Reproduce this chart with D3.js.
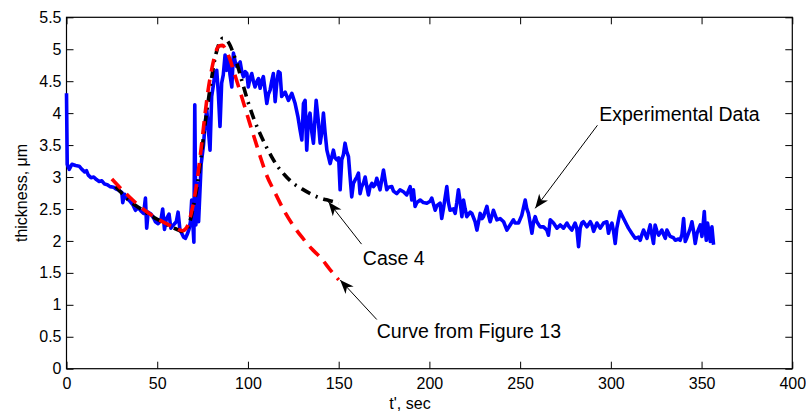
<!DOCTYPE html>
<html>
<head>
    <script src="https://d3js.org/d3.v7.min.js"></script>
    <style>
        body { margin: 0; background: #fff; }
        text { font-family: "Liberation Sans", Arial, Helvetica, sans-serif; fill: #000; }
    </style>
</head>
<body>
<div id="chart"></div>

<script>
    // experimental data (t', sec / thickness, um)
    var expT = [0,0.4,1.5,3,5,7,8.5,10,11,12,13.5,15,16.5,18,19.5,21,22.5,24,26,27.5,29,30.5,31,32,33.5,35,36.5,38,39.5,41,42.5,43.5,44.2,45,46.5,48,49,50.5,52,53,54,55,56.5,57.5,59,60.5,61.5,62.5,63.5,64.5,65.5,66.5,67.5,68.3,69,69.6,70.2,70.7,71.3,72.2,72.8,74.2,75.5,76.4,77.3,78.3,79.1,80,81,81.9,82.8,83.7,84.6,85.5,86.4,87.4,88.3,89.2,90.1,91.1,92,93,93.8,95.7,96.6,97.5,98.5,99.4,100.2,101.2,102.1,103,103.9,105,105.8,106.7,107.6,108.5,110.4,111.3,112.2,113.1,114,115,116,116.8,117.7,118.6,119.6,120.5,122.3,124.2,126,127.5,128.7,129.7,130.6,131.5,132.4,133.3,134.2,135.2,136.1,137.6,138.7,139.8,140.7,141.6,142.5,143.5,145.3,147.1,148,149,150,150.8,151.7,152.6,153.5,154.4,155.4,156.3,157.2,158.1,159,160,160.9,161.8,162.7,163.6,164.6,165.5,166.4,167.3,168.3,169.2,170.1,171,172,172.8,173.7,174.7,175.6,176.5,177.4,179.3,180.2,182,183.8,185.7,187.5,189.4,190.3,191.2,192.1,193.1,194.9,196.7,198.6,200.4,201.3,203.2,204.1,205.9,206.8,207.7,209.6,210.5,211.4,213.2,214.2,215.1,216,217,217.9,218.8,219.7,220.6,222.5,223.4,225.2,226.2,227.1,228,229,229.8,231.7,232.6,233.5,235.3,236.3,237.2,239,240.9,242.7,244.5,246.3,247.2,249.1,250.9,252.8,253.7,254.6,256.5,257.4,258.3,259.2,261,262.9,264.7,265.6,266.6,268.4,270.3,272.1,273.9,275.8,277,278.5,280.3,281.2,282.2,283.1,284,284.9,286.8,288.7,289.6,290.5,292.3,294.1,296,297.8,298.7,299.6,300.6,301.5,302.4,303.3,305.1,307,308.8,309.7,311.5,313.4,315.2,316.2,317.1,318,319.9,320.8,321.7,322.6,323.5,324.4,325.4,326.3,328.1,329.1,330,330.9,331.8,332.7,334.5,335.5,337.3,338.2,339.2,340.1,341,341.9,342.8,343.8,344.7,345.6,346.5,347.5,349.3,350.2,351,351.5,352,352.6,353.3,354,354.8,355.7,356.6];
    var expThk = [4.31,3.2,3.12,3.2,3.18,3.17,3.12,3.08,3.1,3.03,2.99,3.0,2.96,2.93,2.94,2.89,2.88,2.85,2.84,2.81,2.79,2.76,2.6,2.73,2.66,2.62,2.57,2.48,2.52,2.47,2.43,2.67,2.2,2.45,2.42,2.36,2.3,2.27,2.32,2.5,2.18,2.34,2.42,2.2,2.25,2.3,2.45,2.18,2.12,2.06,2.04,2.1,2.18,2.3,2.64,2.3,1.98,4.13,2.25,2.9,2.3,3.2,3.5,3.84,4.05,3.7,3.42,4.26,4.45,4.63,4.67,4.3,3.79,4.47,4.6,4.91,4.67,4.88,4.6,4.41,4.94,4.8,4.73,4.8,4.65,4.57,4.65,4.62,4.41,4.55,4.62,4.5,4.41,4.5,4.54,4.39,4.5,4.57,4.15,4.3,4.36,4.5,4.62,4.18,4.5,4.65,4.63,4.26,4.3,4.33,4.2,4.31,4.15,3.95,3.74,3.58,4.15,4.2,3.42,3.9,4.0,3.7,3.53,4.2,3.9,3.53,3.7,4.0,3.7,3.42,3.21,3.42,3.3,3.27,3.3,2.8,3.27,3.35,3.53,3.4,3.32,3.0,2.69,2.9,2.95,3.0,3.06,2.74,2.85,2.9,3.0,2.85,2.72,2.85,2.9,2.85,2.88,2.98,2.88,2.8,2.95,3.11,2.95,2.8,2.84,2.85,2.78,2.74,2.8,2.77,2.72,2.85,2.64,2.8,2.54,2.6,2.64,2.6,2.59,2.62,2.67,2.48,2.55,2.59,2.35,2.5,2.85,2.6,2.48,2.5,2.43,2.6,2.8,2.6,2.38,2.64,2.5,2.38,2.45,2.43,2.3,2.17,2.3,2.43,2.35,2.38,2.54,2.4,2.3,2.48,2.4,2.33,2.35,2.3,2.17,2.25,2.33,2.28,2.28,2.4,2.64,2.5,2.43,2.12,2.3,2.38,2.3,2.22,2.22,2.17,2.09,2.33,2.28,2.2,2.25,2.2,2.28,2.22,2.17,2.28,2.2,1.91,2.2,2.28,2.3,2.22,2.3,2.25,2.15,2.28,2.2,2.28,2.3,2.12,2.22,2.28,2.15,1.96,2.2,2.46,2.35,2.25,2.2,2.12,2.04,2.06,2.01,2.1,2.17,2.04,2.15,2.25,2.1,1.96,2.25,2.15,2.09,2.17,2.1,2.04,2.17,2.12,2.07,2.05,2.01,2.03,2.01,2.1,2.35,1.99,2.05,2.12,2.2,2.3,2.15,1.96,2.12,2.25,2.07,2.3,2.46,2.2,2.01,2.28,2.15,1.99,2.22,1.94];

    // Case 4 model
    var caseT = [27,30,35,40,45,50,55,60,64,66,68,70,72,74,76,78,80,82,84,86,88,90,92,94,97,100,103,106,110,113,116,120,125,130,135,140,145,150];
    var caseThk = [2.85,2.76,2.62,2.52,2.42,2.34,2.26,2.19,2.15,2.17,2.3,2.55,2.85,3.27,3.75,4.17,4.55,4.88,5.08,5.17,5.15,5.07,4.93,4.77,4.47,4.18,3.93,3.72,3.48,3.32,3.18,3.04,2.9,2.81,2.73,2.67,2.63,2.59];

    // curve from Figure 13
    var figT = [25,30,35,40,45,50,55,60,64,66,68,70,72,74,76,78,80,82,84,86,88,90,92,95,98,101,104,107,110,115,120,125,130,135,140,145,150];
    var figThk = [2.97,2.82,2.68,2.55,2.44,2.35,2.27,2.2,2.16,2.2,2.35,2.6,2.95,3.4,3.9,4.35,4.68,4.93,5.05,5.06,4.98,4.85,4.67,4.4,4.12,3.84,3.57,3.3,3.05,2.75,2.47,2.24,2.05,1.88,1.74,1.56,1.39];

    var xTicks = [0,50,100,150,200,250,300,350,400];
    var yTicks = [0,0.5,1,1.5,2,2.5,3,3.5,4,4.5,5,5.5];

    // annotations: text, text anchor point, arrow tail, arrow tip (data units)
    var notes = [
        { label: "Experimental Data", tx: 293.6, ty: 3.88, x1: 292.6, y1: 3.81, x2: 258.3, y2: 2.51 },
        { label: "Case 4", tx: 163.3, ty: 1.62, x1: 162.6, y1: 1.95, x2: 144.4, y2: 2.61 },
        { label: "Curve from Figure 13", tx: 171.0, ty: 0.48, x1: 171.0, y1: 0.77, x2: 150.8, y2: 1.39 }
    ];

    var W = 806, H = 414;
    var padL = 66.5, padR = 792.3, padT = 17.3, padB = 368.7;

    var svg = d3.select("#chart")
        .append("svg")
        .attr("width", W)
        .attr("height", H);

    var x = d3.scaleLinear().domain([0, 400]).range([padL, padR]);
    var y = d3.scaleLinear().domain([0, 5.5]).range([padB, padT]);

    function series(ts, vs) {
        return ts.map(function(t, i) { return [t, vs[i]]; });
    }

    var line = d3.line()
        .x(function(d) { return x(d[0]); })
        .y(function(d) { return y(d[1]); });

    var smooth = d3.line()
        .curve(d3.curveMonotoneX)
        .x(function(d) { return x(d[0]); })
        .y(function(d) { return y(d[1]); });

    // axes
    var fontSize = 16;
    var fmt = d3.format("~g");
    svg.append("g")
        .attr("transform", "translate(0," + padB + ")")
        .call(d3.axisBottom(x).tickValues(xTicks).tickFormat(fmt).tickSizeInner(-7).tickSizeOuter(0).tickPadding(9))
        .call(function(g) { g.select(".domain").remove(); });
    svg.append("g")
        .attr("transform", "translate(0," + padT + ")")
        .call(d3.axisTop(x).tickValues(xTicks).tickSizeInner(-7).tickSizeOuter(0).tickFormat(""))
        .call(function(g) { g.select(".domain").remove(); });
    svg.append("g")
        .attr("transform", "translate(" + padL + ",0)")
        .call(d3.axisLeft(y).tickValues(yTicks).tickFormat(fmt).tickSizeInner(-7).tickSizeOuter(0).tickPadding(5))
        .call(function(g) { g.select(".domain").remove(); });
    svg.append("g")
        .attr("transform", "translate(" + padR + ",0)")
        .call(d3.axisRight(y).tickValues(yTicks).tickSizeInner(-7).tickSizeOuter(0).tickFormat(""))
        .call(function(g) { g.select(".domain").remove(); });

    svg.selectAll(".tick text")
        .style("font-size", fontSize + "px")
        .style("font-family", "'Liberation Sans', Arial, Helvetica, sans-serif");
    svg.selectAll(".tick line").attr("stroke", "#000");

    svg.append("rect")
        .attr("x", padL).attr("y", padT)
        .attr("width", padR - padL).attr("height", padB - padT)
        .attr("fill", "none").attr("stroke", "#000").attr("stroke-width", 1.2);

    // data lines
    svg.append("path")
        .datum(series(expT, expThk))
        .attr("d", line)
        .attr("fill", "none")
        .attr("stroke", "#0000ff")
        .attr("stroke-width", 3.6)
        .attr("stroke-linejoin", "round");

    svg.append("path")
        .datum(series(caseT, caseThk))
        .attr("d", smooth)
        .attr("fill", "none")
        .attr("stroke", "#000")
        .attr("stroke-width", 3.6)
        .attr("stroke-dasharray", "10,6,2,6");

    svg.append("path")
        .datum(series(figT, figThk))
        .attr("d", smooth)
        .attr("fill", "none")
        .attr("stroke", "#ff0000")
        .attr("stroke-width", 3.6)
        .attr("stroke-dasharray", "13,8");

    // annotation arrows
    svg.append("defs").append("marker")
        .attr("id", "head")
        .attr("markerUnits", "userSpaceOnUse")
        .attr("viewBox", "-15 -7 16 14")
        .attr("refX", 0).attr("refY", 0)
        .attr("markerWidth", 16).attr("markerHeight", 14)
        .attr("orient", "auto")
        .append("path")
        .attr("d", "M0,0L-14,-5.5L-10,0L-14,5.5Z")
        .attr("fill", "#000");

    svg.selectAll(".note-line")
        .data(notes)
        .enter()
        .append("line")
        .attr("class", "note-line")
        .attr("x1", function(d) { return x(d.x1); })
        .attr("y1", function(d) { return y(d.y1); })
        .attr("x2", function(d) { return x(d.x2); })
        .attr("y2", function(d) { return y(d.y2); })
        .attr("stroke", "#000")
        .attr("stroke-width", 1)
        .attr("marker-end", "url(#head)");

    svg.selectAll(".note-text")
        .data(notes)
        .enter()
        .append("text")
        .attr("class", "note-text")
        .attr("x", function(d) { return x(d.tx); })
        .attr("y", function(d) { return y(d.ty); })
        .style("font-size", "19.5px")
        .text(function(d) { return d.label; });

    // axis labels
    svg.append("text")
        .attr("x", 410)
        .attr("y", 409)
        .attr("text-anchor", "middle")
        .style("font-size", fontSize + "px")
        .text("t', sec");

    svg.append("text")
        .attr("transform", "translate(27," + ((padT + padB) / 2) + ") rotate(-90)")
        .attr("text-anchor", "middle")
        .style("font-size", fontSize + "px")
        .text("thickness, μm");
</script>
</body>
</html>
